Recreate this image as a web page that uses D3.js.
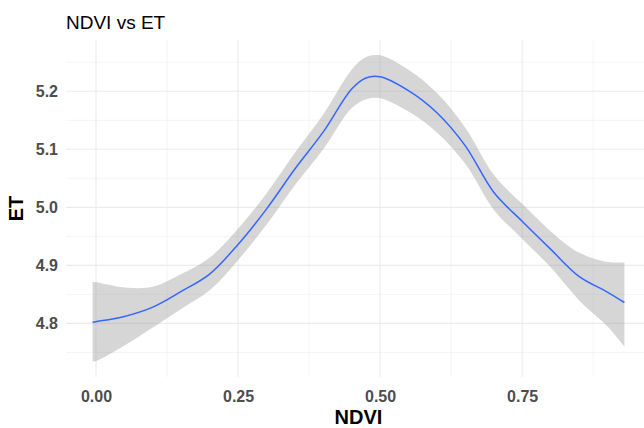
<!DOCTYPE html>
<html>
<head>
<meta charset="utf-8">
<script src="https://cdn.jsdelivr.net/npm/d3@7"></script>
<style>
  html, body { margin: 0; padding: 0; background: #fff; }
  svg { display: block; font-family: "Liberation Sans", Arial, sans-serif; }
</style>
</head>
<body>
<svg id="chart" width="644" height="428"></svg>
<script>
// Loess fit of ET against NDVI with its confidence band
const ndvi  = [-0.006, 0.0, 0.05, 0.1, 0.15, 0.2, 0.25, 0.3, 0.35, 0.4, 0.45, 0.475, 0.5, 0.55, 0.6, 0.65, 0.7, 0.75, 0.8, 0.85, 0.9, 0.93];
const etFit = [4.802, 4.803, 4.812, 4.828, 4.855, 4.885, 4.936, 4.997, 5.066, 5.130, 5.204, 5.223, 5.225, 5.201, 5.163, 5.106, 5.026, 4.976, 4.928, 4.881, 4.854, 4.836];
const etHi  = [4.871, 4.871, 4.862, 4.863, 4.885, 4.913, 4.963, 5.024, 5.094, 5.160, 5.237, 5.259, 5.262, 5.237, 5.197, 5.137, 5.056, 5.006, 4.959, 4.922, 4.906, 4.905];
const etLo  = [4.734, 4.735, 4.762, 4.793, 4.825, 4.857, 4.909, 4.970, 5.038, 5.100, 5.171, 5.186, 5.188, 5.165, 5.129, 5.075, 4.996, 4.946, 4.897, 4.840, 4.795, 4.760];

const xMajor = [0, 0.25, 0.5, 0.75];
const xMinor = [0.125, 0.375, 0.625, 0.875];
const yMajor = [4.8, 4.9, 5.0, 5.1, 5.2];
const yMinor = [4.75, 4.85, 4.95, 5.05, 5.15, 5.25];

const titleText = "NDVI vs ET";
const xTitle = "NDVI";
const yTitle = "ET";

const svg = d3.select("#chart");
const W = 644, H = 428;
const panel = { left: 66, right: 651, top: 40, bottom: 377 };

// 5% expansion of the data range on each side
function expand(lo, hi) { const e = (hi - lo) * 0.05; return [lo - e, hi + e]; }
const xDom = expand(d3.min(ndvi), d3.max(ndvi));
const yDom = expand(d3.min(etLo), d3.max(etHi));

const x = d3.scaleLinear().domain(xDom).range([panel.left, panel.right]);
const y = d3.scaleLinear().domain(yDom).range([panel.bottom, panel.top]);

const grid = svg.append("g");
// minor grid
grid.selectAll(".xmin").data(xMinor).join("line")
  .attr("x1", d => x(d)).attr("x2", d => x(d))
  .attr("y1", panel.top).attr("y2", panel.bottom)
  .attr("stroke", "#ebebeb").attr("stroke-width", 0.55);
grid.selectAll(".ymin").data(yMinor).join("line")
  .attr("x1", panel.left).attr("x2", panel.right)
  .attr("y1", d => y(d)).attr("y2", d => y(d))
  .attr("stroke", "#ebebeb").attr("stroke-width", 0.55);
// major grid
grid.selectAll(".xmaj").data(xMajor).join("line")
  .attr("x1", d => x(d)).attr("x2", d => x(d))
  .attr("y1", panel.top).attr("y2", panel.bottom)
  .attr("stroke", "#ebebeb").attr("stroke-width", 1.1);
grid.selectAll(".ymaj").data(yMajor).join("line")
  .attr("x1", panel.left).attr("x2", panel.right)
  .attr("y1", d => y(d)).attr("y2", d => y(d))
  .attr("stroke", "#ebebeb").attr("stroke-width", 1.1);

const rows = ndvi.map((v, i) => ({ x: v, fit: etFit[i], hi: etHi[i], lo: etLo[i] }));
const curve = d3.curveCatmullRom.alpha(0.5);

svg.append("path").datum(rows)
  .attr("d", d3.area().x(d => x(d.x)).y0(d => y(d.lo)).y1(d => y(d.hi)).curve(curve))
  .attr("fill", "#999999").attr("fill-opacity", 0.4);

svg.append("path").datum(rows)
  .attr("d", d3.line().x(d => x(d.x)).y(d => y(d.fit)).curve(curve))
  .attr("fill", "none").attr("stroke", "#3366FF").attr("stroke-width", 1.5);

// axes (tick labels only, no lines)
const xAxis = svg.append("g").attr("transform", `translate(0,${panel.bottom})`)
  .call(d3.axisBottom(x).tickValues(xMajor).tickFormat(d3.format(".2f")).tickSize(0).tickPadding(14));
const yAxis = svg.append("g").attr("transform", `translate(${panel.left},0)`)
  .call(d3.axisLeft(y).tickValues(yMajor).tickFormat(d3.format(".1f")).tickSize(0).tickPadding(8));
[xAxis, yAxis].forEach(g => {
  g.select(".domain").remove();
  g.selectAll("text").attr("font-family", "Liberation Sans, Arial, sans-serif")
    .attr("font-size", 16).attr("font-weight", "bold").attr("fill", "#4d4d4d");
});

svg.append("text").attr("x", 66).attr("y", 29)
  .attr("font-size", 19).attr("fill", "#000").text(titleText);

svg.append("text").attr("x", (panel.left + panel.right) / 2).attr("y", 424)
  .attr("text-anchor", "middle").attr("font-size", 20).attr("font-weight", "bold")
  .attr("fill", "#000").text(xTitle);

svg.append("text").attr("transform", `translate(23,${(panel.top + panel.bottom) / 2}) rotate(-90)`)
  .attr("text-anchor", "middle").attr("font-size", 20).attr("font-weight", "bold")
  .attr("fill", "#000").text(yTitle);
</script>
</body>
</html>
